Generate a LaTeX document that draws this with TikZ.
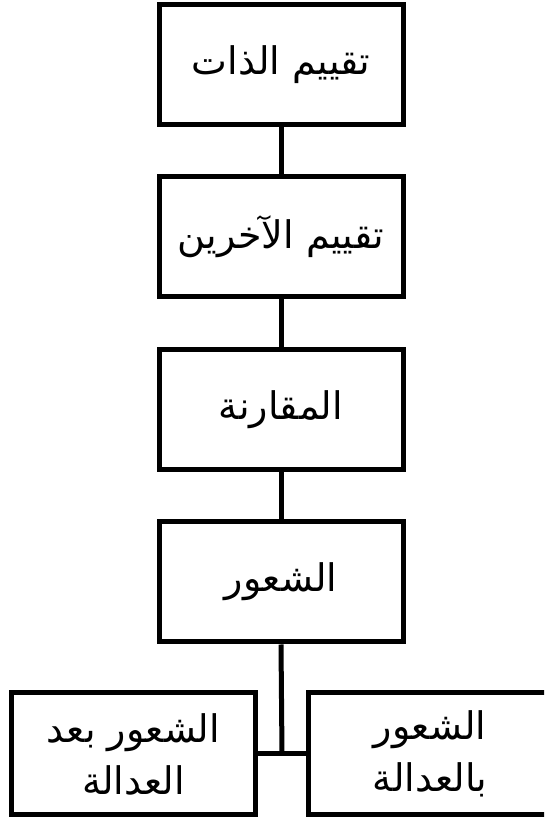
\documentclass[tikz,border=0pt]{standalone}
\usepackage{fontspec}
\TeXXeTstate=1
\newfontfamily\arabicfont[Script=Arabic]{DejaVu Sans}
\tikzset{
  stage/.style={draw=black, line width=5pt, fill=white, minimum width=244pt, minimum height=120pt,
    inner sep=0pt, font=\arabicfont\fontsize{38}{52}\selectfont, align=center},
  link/.style={draw=black, line width=5pt}
}
\begin{document}
\begin{tikzpicture}[x=1pt,y=1pt]
\useasboundingbox (0,0) rectangle (544,818);
\fill[white] (0,0) rectangle (544,818);
\clip (0,0) rectangle (544,818);
\node[stage] (b1) at (281,753) {\beginR تقييم الذات\endR};
\node[stage] (b2) at (281,581) {\beginR تقييم الآخرين\endR};
\node[stage] (b3) at (281,408) {\beginR المقارنة\endR};
\node[stage] (b4) at (281,236) {\beginR الشعور\endR};
\node[stage, minimum height=122pt] (l) at (133.5,64) {\beginR الشعور بعد\endR\\\beginR العدالة\endR};
\node[stage, minimum height=122pt] (r) at (430,64) {\beginR الشعور\endR\\\beginR بالعدالة\endR};
\coordinate (j) at (282,64);
\draw[link] (b1.south) -- (b2.north);
\draw[link] (b2.south) -- (b3.north);
\draw[link] (b3.south) -- (b4.north);
\draw[link] (b4.south) -- (j);
\draw[link] (l.east) -- (r.west);
\end{tikzpicture}
\end{document}
